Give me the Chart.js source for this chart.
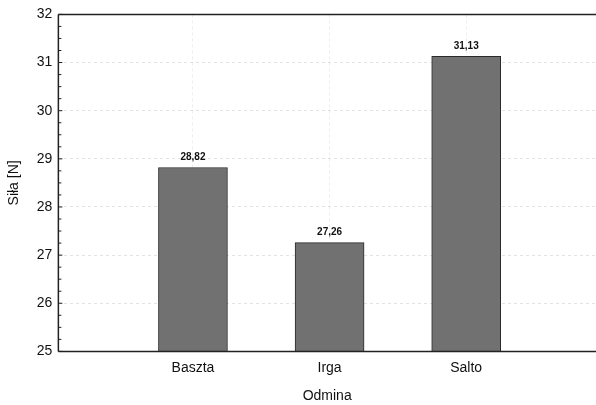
<!DOCTYPE html>
<html><head><meta charset="utf-8">
<script src="https://cdn.jsdelivr.net/npm/chart.js@4/dist/chart.umd.min.js"></script>
<style>html,body{margin:0;padding:0;background:#fff;overflow:hidden}#wrap{width:596px;height:405px}</style>
</head><body><div id="wrap"><canvas id="c" width="596" height="405"></canvas></div>
<script>
const categories = ['Baszta', 'Irga', 'Salto'];
const values = [28.82, 27.26, 31.13];
const yTicks = [25, 26, 27, 28, 29, 30, 31, 32];
const yTitle = 'Siła [N]';
const xTitle = 'Odmina';

const FONT = "'Liberation Sans', Arial, sans-serif";

const framePlugin = {
  id: 'frame',
  afterDatasetsDraw(chart) {
    const ctx = chart.ctx, a = chart.chartArea, y = chart.scales.y;
    ctx.save();
    ctx.strokeStyle = '#222';
    ctx.lineWidth = 1.5;
    ctx.beginPath();
    ctx.moveTo(a.left, a.top); ctx.lineTo(a.right, a.top);
    ctx.moveTo(a.left, a.top); ctx.lineTo(a.left, a.bottom);
    ctx.moveTo(a.left, a.bottom); ctx.lineTo(a.right, a.bottom);
    ctx.stroke();
    ctx.lineWidth = 1;
    ctx.beginPath();
    for (let v = y.min; v <= y.max + 1e-9; v += 0.25) {
      const p = y.getPixelForValue(v);
      const len = Math.abs(v - Math.round(v)) < 1e-6 ? 4 : 3;
      ctx.moveTo(a.left, p); ctx.lineTo(a.left + len, p);
    }
    ctx.stroke();
    const meta = chart.getDatasetMeta(0);
    ctx.fillStyle = '#111';
    ctx.font = "bold 10px " + FONT;
    ctx.textAlign = 'center';
    ctx.textBaseline = 'bottom';
    meta.data.forEach((bar, i) => {
      ctx.fillText(values[i].toFixed(2).replace('.', ','), bar.x, bar.y - 5);
    });
    ctx.restore();
  }
};

new Chart(document.getElementById('c'), {
  type: 'bar',
  data: {
    datasets: [{
      data: categories.map((c, i) => ({ x: i + 1, y: values[i] })),
      backgroundColor: '#717171',
      borderColor: '#2a2a2a',
      borderWidth: 1,
      borderSkipped: false,
      barThickness: 69
    }]
  },
  options: {
    responsive: false,
    animation: false,
    devicePixelRatio: 1,
    layout: { padding: { top: 6, right: 0, left: 6, bottom: 0 } },
    plugins: { legend: { display: false }, tooltip: { enabled: false } },
    scales: {
      x: {
        type: 'linear',
        offset: false,
        min: 0.015,
        max: 3.95,
        afterBuildTicks: s => { s.ticks = categories.map((c, i) => ({ value: i + 1 })); },
        ticks: {
          callback: v => categories[v - 1] ?? '',
          color: '#111',
          font: { family: FONT, size: 14 },
          padding: 8,
          maxRotation: 0,
          autoSkip: false
        },
        grid: { offset: false, color: 'rgba(0,0,0,0.07)', drawTicks: false, tickLength: 0 },
        border: { display: false, dash: [3, 3] },
        title: { display: true, text: xTitle, color: '#111', font: { family: FONT, size: 14 }, padding: { top: 4, bottom: 0 } }
      },
      y: {
        min: yTicks[0],
        max: yTicks[yTicks.length - 1],
        afterBuildTicks: s => { s.ticks = yTicks.map(v => ({ value: v })); },
        ticks: {
          color: '#111',
          font: { family: FONT, size: 14 },
          padding: 6
        },
        grid: { color: 'rgba(0,0,0,0.11)', drawTicks: false, tickLength: 0 },
        border: { display: false, dash: [3, 3] },
        title: { display: true, text: yTitle, color: '#111', font: { family: FONT, size: 14 }, padding: { top: 0, bottom: 8 } }
      }
    }
  },
  plugins: [framePlugin]
});
</script>
</body></html>
